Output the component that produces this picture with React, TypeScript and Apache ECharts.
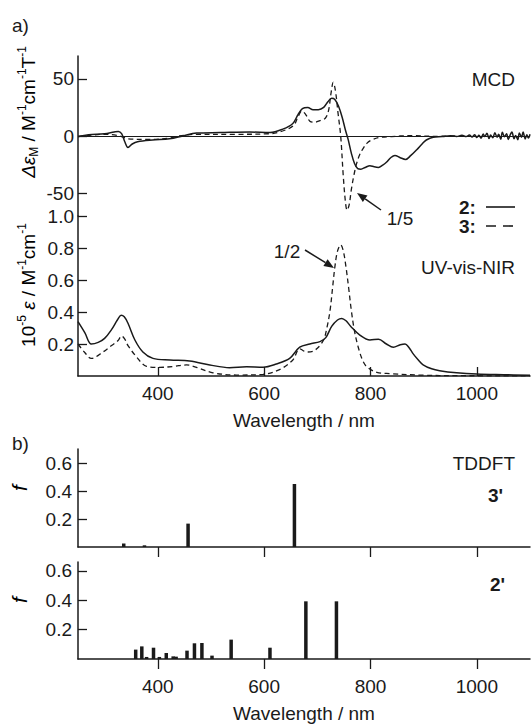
import React, { useEffect, useRef } from "react";
import * as echarts from "echarts";

// ---------- data ----------
const xTicks = [400, 600, 800, 1000];
const mcdTicks = [-50, 0, 50];
const uvTicks = [0.2, 0.4, 0.6, 0.8, 1.0];
const fTicks = [0.2, 0.4, 0.6];

// MCD of 2 (solid)
const mcdSolid: [number, number][] = [
  [250, -0.5], [270, 1], [300, 2], [318, 3.5], [326, 4], [332, 2], [338, -5], [344, -10], [352, -7],
  [362, -5], [390, -3.5], [422, -2.5], [447, 0], [473, 2.6], [517, 3], [573, 3.5], [611, 3],
  [635, 6], [654, 11], [664, 19], [672, 24], [682, 25], [692, 23], [702, 23], [712, 25],
  [720, 30], [727, 33], [733, 32], [740, 26], [747, 16], [753, 5], [758, -3], [764, -15],
  [770, -24], [776, -28.5], [782, -29], [790, -27.5], [799, -26], [807, -27], [815, -27.5],
  [823, -25.5], [830, -23], [838, -19], [846, -17], [856, -19], [866, -20.5], [876, -17],
  [887, -12], [897, -7], [905, -3.5], [918, -1], [935, -0.5], [950, 0.3], [962, -0.4], [972, 0.6],
  [980, -0.5], [986, 0.9], [991, -0.8], [996, 1.2], [1000, -1.4], [1004, 0.6], [1008, -2],
  [1012, 1.8], [1015, -0.5], [1019, 2.4], [1023, -2.2], [1026, 0.8], [1030, -1.6], [1034, 2.8],
  [1038, -1], [1041, 1.5], [1045, -2.8], [1048, 3.2], [1052, -0.6], [1056, 2], [1059, -3],
  [1063, 1.2], [1066, 3.6], [1070, -2.4], [1073, 0.5], [1077, -3.2], [1080, 2.6], [1084, -1.2],
  [1087, 3.4], [1091, -2.6], [1094, 1], [1097, -1.8], [1100, 1.5],
];

// MCD of 3 (dashed, 1/5)
const mcdDashed: [number, number][] = [
  [250, -0.5], [275, 0.8], [297, 1.5], [325, 0.5], [335, -1], [344, -2.5], [380, -3], [420, -2],
  [440, 0], [473, 1.5], [548, 1.5], [611, 2], [636, 4.6], [655, 9], [664, 17], [671, 22],
  [678, 19], [686, 13], [695, 12], [705, 13.5], [715, 15.5], [721, 22], [726, 38], [730, 47],
  [734, 40], [739, 20], [744, 0], [749, -36], [753, -58], [756, -65], [760, -60], [764, -47],
  [769, -34], [774, -24], [780, -16], [786, -11], [794, -6], [802, -3.5], [818, -1.2],
  [840, -0.5], [856, 0], [880, 0.3], [920, -0.3], [960, 0],
];

// UV-vis-NIR of 2 (solid)
const uvSolid: [number, number][] = [
  [250, 0.34], [263, 0.27], [275, 0.2], [288, 0.21], [300, 0.235], [313, 0.29], [324, 0.35],
  [331, 0.38], [337, 0.37], [344, 0.33], [357, 0.225], [372, 0.15], [391, 0.11], [423, 0.1],
  [460, 0.094], [498, 0.069], [535, 0.052], [567, 0.058], [598, 0.055], [623, 0.075],
  [648, 0.11], [667, 0.18], [686, 0.2], [705, 0.215], [716, 0.24], [727, 0.31], [738, 0.35],
  [746, 0.36], [754, 0.345], [763, 0.31], [780, 0.256], [799, 0.225], [815, 0.23], [830, 0.2],
  [843, 0.18], [856, 0.195], [865, 0.2], [872, 0.18], [880, 0.14], [890, 0.1], [899, 0.07],
  [915, 0.045], [930, 0.033], [962, 0.02], [1000, 0.012], [1050, 0.008], [1100, 0.005],
];

// UV-vis-NIR of 3 (dashed, 1/2)
const uvDashed: [number, number][] = [
  [250, 0.2], [262, 0.15], [275, 0.11], [297, 0.15], [313, 0.19], [325, 0.22], [332, 0.25],
  [338, 0.23], [344, 0.19], [360, 0.12], [379, 0.06], [404, 0.054], [430, 0.06], [454, 0.069],
  [473, 0.054], [504, 0.02], [548, 0.006], [598, 0.01], [629, 0.04], [654, 0.1], [667, 0.17],
  [680, 0.15], [695, 0.16], [711, 0.22], [718, 0.3], [724, 0.41], [729, 0.56], [733, 0.68],
  [738, 0.78], [744, 0.82], [749, 0.78], [754, 0.68], [759, 0.55], [764, 0.41], [770, 0.28],
  [777, 0.18], [785, 0.1], [793, 0.058], [812, 0.023], [837, 0.015], [899, 0.005],
  [962, 0.002], [1100, 0.001],
];

// TDDFT oscillator strengths
const tddft3: [number, number][] = [
  [336, 0.025], [375, 0.012], [457, 0.167], [657, 0.45],
];
const tddft2: [number, number][] = [
  [358.5, 0.064], [370, 0.086], [379, 0.014], [392, 0.077], [403, 0.014], [416, 0.041],
  [429, 0.018], [434.5, 0.016], [455, 0.057], [469, 0.107], [483, 0.109], [502, 0.023],
  [538, 0.132], [611, 0.077], [678.5, 0.393], [736, 0.393],
];

// ---------- styling ----------
const FONT = "'Liberation Sans', Arial, Helvetica, sans-serif";
const INK = "#1a1a1a";
const FS = 19;

function arrow(x1: number, y1: number, x2: number, y2: number) {
  const dx = x2 - x1, dy = y2 - y1;
  const len = Math.sqrt(dx * dx + dy * dy);
  const ux = dx / len, uy = dy / len;
  const hl = 10, hw = 4;
  const bx = x2 - ux * hl, by = y2 - uy * hl;
  const px = -uy, py = ux;
  return [
    { type: "line", shape: { x1, y1, x2: bx, y2: by }, style: { stroke: INK, lineWidth: 1.5 } },
    {
      type: "polygon",
      shape: { points: [[x2, y2], [bx + px * hw, by + py * hw], [bx - px * hw, by - py * hw]] },
      style: { fill: INK },
    },
  ];
}

function txt(x: number, y: number, text: string, align = "left", extra: any = {}) {
  return {
    type: "text",
    x, y,
    style: {
      text, x: 0, y: 0, fill: INK, fontSize: FS, fontFamily: FONT,
      align, verticalAlign: "middle", ...extra,
    },
  };
}

const richBase = {
  n: { fontSize: FS, fontFamily: FONT, color: INK, lineHeight: 24 },
  i: { fontSize: FS, fontFamily: FONT, color: INK, fontStyle: "italic", lineHeight: 24 },
  fi: { fontSize: 21, fontFamily: FONT, color: INK, fontStyle: "italic", lineHeight: 24 },
  sup: { fontSize: 12, fontFamily: FONT, color: INK, verticalAlign: "top", lineHeight: 24 },
  sub: { fontSize: 12, fontFamily: FONT, color: INK, verticalAlign: "bottom", lineHeight: 24 },
};

function rotTitle(x: number, y: number, text: string) {
  return {
    type: "text",
    x, y,
    rotation: Math.PI / 2,
    style: { text, x: 0, y: 0, align: "center", verticalAlign: "middle", rich: richBase },
  };
}

function xAxis(gridIndex: number, opts: { show?: boolean; inside?: boolean; labels?: boolean; margin?: number }) {
  return {
    type: "value",
    gridIndex,
    min: 250,
    max: 1100,
    show: opts.show !== false,
    axisLine: { show: true, onZero: false, lineStyle: { color: INK, width: 1.5 } },
    axisTick: {
      show: true,
      inside: !!opts.inside,
      length: opts.inside ? 9 : 10,
      customValues: xTicks,
      lineStyle: { color: INK, width: 1.3 },
    },
    axisLabel: {
      show: !!opts.labels,
      customValues: xTicks,
      formatter: (v: number) => String(v),
      fontSize: FS,
      fontFamily: FONT,
      color: INK,
      margin: opts.margin ?? 8,
    },
    splitLine: { show: false },
  };
}

function yAxis(gridIndex: number, min: number, max: number, ticks: number[], fmt: (v: number) => string, margin: number) {
  return {
    type: "value",
    gridIndex,
    min,
    max,
    axisLine: { show: true, onZero: false, lineStyle: { color: INK, width: 1.5 } },
    axisTick: { show: true, inside: true, length: 9, customValues: ticks, lineStyle: { color: INK, width: 1.3 } },
    axisLabel: {
      customValues: ticks,
      formatter: fmt,
      fontSize: FS,
      fontFamily: FONT,
      color: INK,
      margin,
    },
    splitLine: { show: false },
  };
}

export default function App() {
  const ref = useRef<HTMLDivElement>(null);

  useEffect(() => {
    if (!ref.current) return;
    const chart = echarts.init(ref.current, null, { renderer: "svg" });

    const graphics: any[] = [
      txt(12, 25, "a)"),
      txt(12, 443, "b)"),
      txt(515, 79, "MCD", "right"),
      txt(515, 267, "UV-vis-NIR", "right"),
      txt(515, 463, "TDDFT", "right"),
      txt(503, 495, "3'", "right", { fontWeight: "bold" }),
      txt(505, 584, "2'", "right", { fontWeight: "bold" }),
      txt(400, 218, "1/5", "center"),
      txt(287, 251, "1/2", "center"),
      ...arrow(381, 210, 357, 193),
      ...arrow(305, 250, 334, 268),
      txt(459, 207, "2:", "left", { fontWeight: "bold" }),
      txt(459, 226, "3:", "left", { fontWeight: "bold" }),
      { type: "line", shape: { x1: 486, y1: 207, x2: 515, y2: 207 }, style: { stroke: INK, lineWidth: 1.6 } },
      {
        type: "line",
        shape: { x1: 486, y1: 226, x2: 515, y2: 226 },
        style: { stroke: INK, lineWidth: 1.6, lineDash: [10, 7] },
      },
      txt(304, 420, "Wavelength / nm", "center"),
      txt(304, 713, "Wavelength / nm", "center"),
      rotTitle(28, 112, "{i|Δε}{sub|M}{n| / M}{sup|-1}{n|cm}{sup|-1}{n|T}{sup|-1}"),
      rotTitle(28, 285, "{n|10}{sup|-5}{n| }{i|ε}{n| / M}{sup|-1}{n|cm}{sup|-1}"),
      rotTitle(19, 488, "{fi|f}"),
      rotTitle(19, 600, "{fi|f}"),
    ];

    const lineCommon = { type: "line", showSymbol: false, symbol: "none", smooth: 0.35, silent: true };

    chart.setOption({
      animation: false,
      backgroundColor: "#ffffff",
      grid: [
        { left: 78, right: 1, top: 56, height: 160 },
        { left: 78, right: 1, top: 216, height: 160 },
        { left: 78, right: 1, top: 449, height: 98 },
        { left: 78, right: 1, top: 562, height: 97 },
      ],
      xAxis: [
        xAxis(0, { show: false }),
        xAxis(1, { inside: true, labels: true, margin: 8 }),
        xAxis(2, { inside: false, labels: false }),
        xAxis(3, { inside: false, labels: true, margin: 18 }),
      ],
      yAxis: [
        yAxis(0, -70, 70, mcdTicks, (v: number) => String(v), 4),
        yAxis(1, 0, 1.0, uvTicks, (v: number) => v.toFixed(1), 4),
        yAxis(2, 0, 0.7, fTicks, (v: number) => v.toFixed(1), 6),
        yAxis(3, 0, 0.661, fTicks, (v: number) => v.toFixed(1), 6),
      ],
      series: [
        {
          ...lineCommon,
          name: "MCD 2",
          xAxisIndex: 0,
          yAxisIndex: 0,
          data: mcdSolid,
          lineStyle: { color: INK, width: 1.5 },
          markLine: {
            silent: true,
            symbol: ["none", "none"],
            label: { show: false },
            lineStyle: { color: INK, width: 1, type: "solid" },
            data: [{ yAxis: 0 }],
          },
        },
        {
          ...lineCommon,
          name: "MCD 3",
          xAxisIndex: 0,
          yAxisIndex: 0,
          data: mcdDashed,
          lineStyle: { color: INK, width: 1.3, type: [5, 3.5] },
        },
        {
          ...lineCommon,
          name: "UV 2",
          xAxisIndex: 1,
          yAxisIndex: 1,
          data: uvSolid,
          lineStyle: { color: INK, width: 1.5 },
        },
        {
          ...lineCommon,
          name: "UV 3",
          xAxisIndex: 1,
          yAxisIndex: 1,
          data: uvDashed,
          lineStyle: { color: INK, width: 1.3, type: [5, 3.5] },
        },
        {
          type: "bar",
          name: "TDDFT 3'",
          xAxisIndex: 2,
          yAxisIndex: 2,
          data: tddft3,
          barWidth: 3.5,
          itemStyle: { color: INK },
          silent: true,
        },
        {
          type: "bar",
          name: "TDDFT 2'",
          xAxisIndex: 3,
          yAxisIndex: 3,
          data: tddft2,
          barWidth: 3.5,
          itemStyle: { color: INK },
          silent: true,
        },
      ],
      graphic: graphics,
    });

    return () => chart.dispose();
  }, []);

  return (
    <div
      ref={ref}
      style={{ position: "absolute", left: 0, top: 0, width: 531, height: 726, background: "#fff" }}
    />
  );
}
